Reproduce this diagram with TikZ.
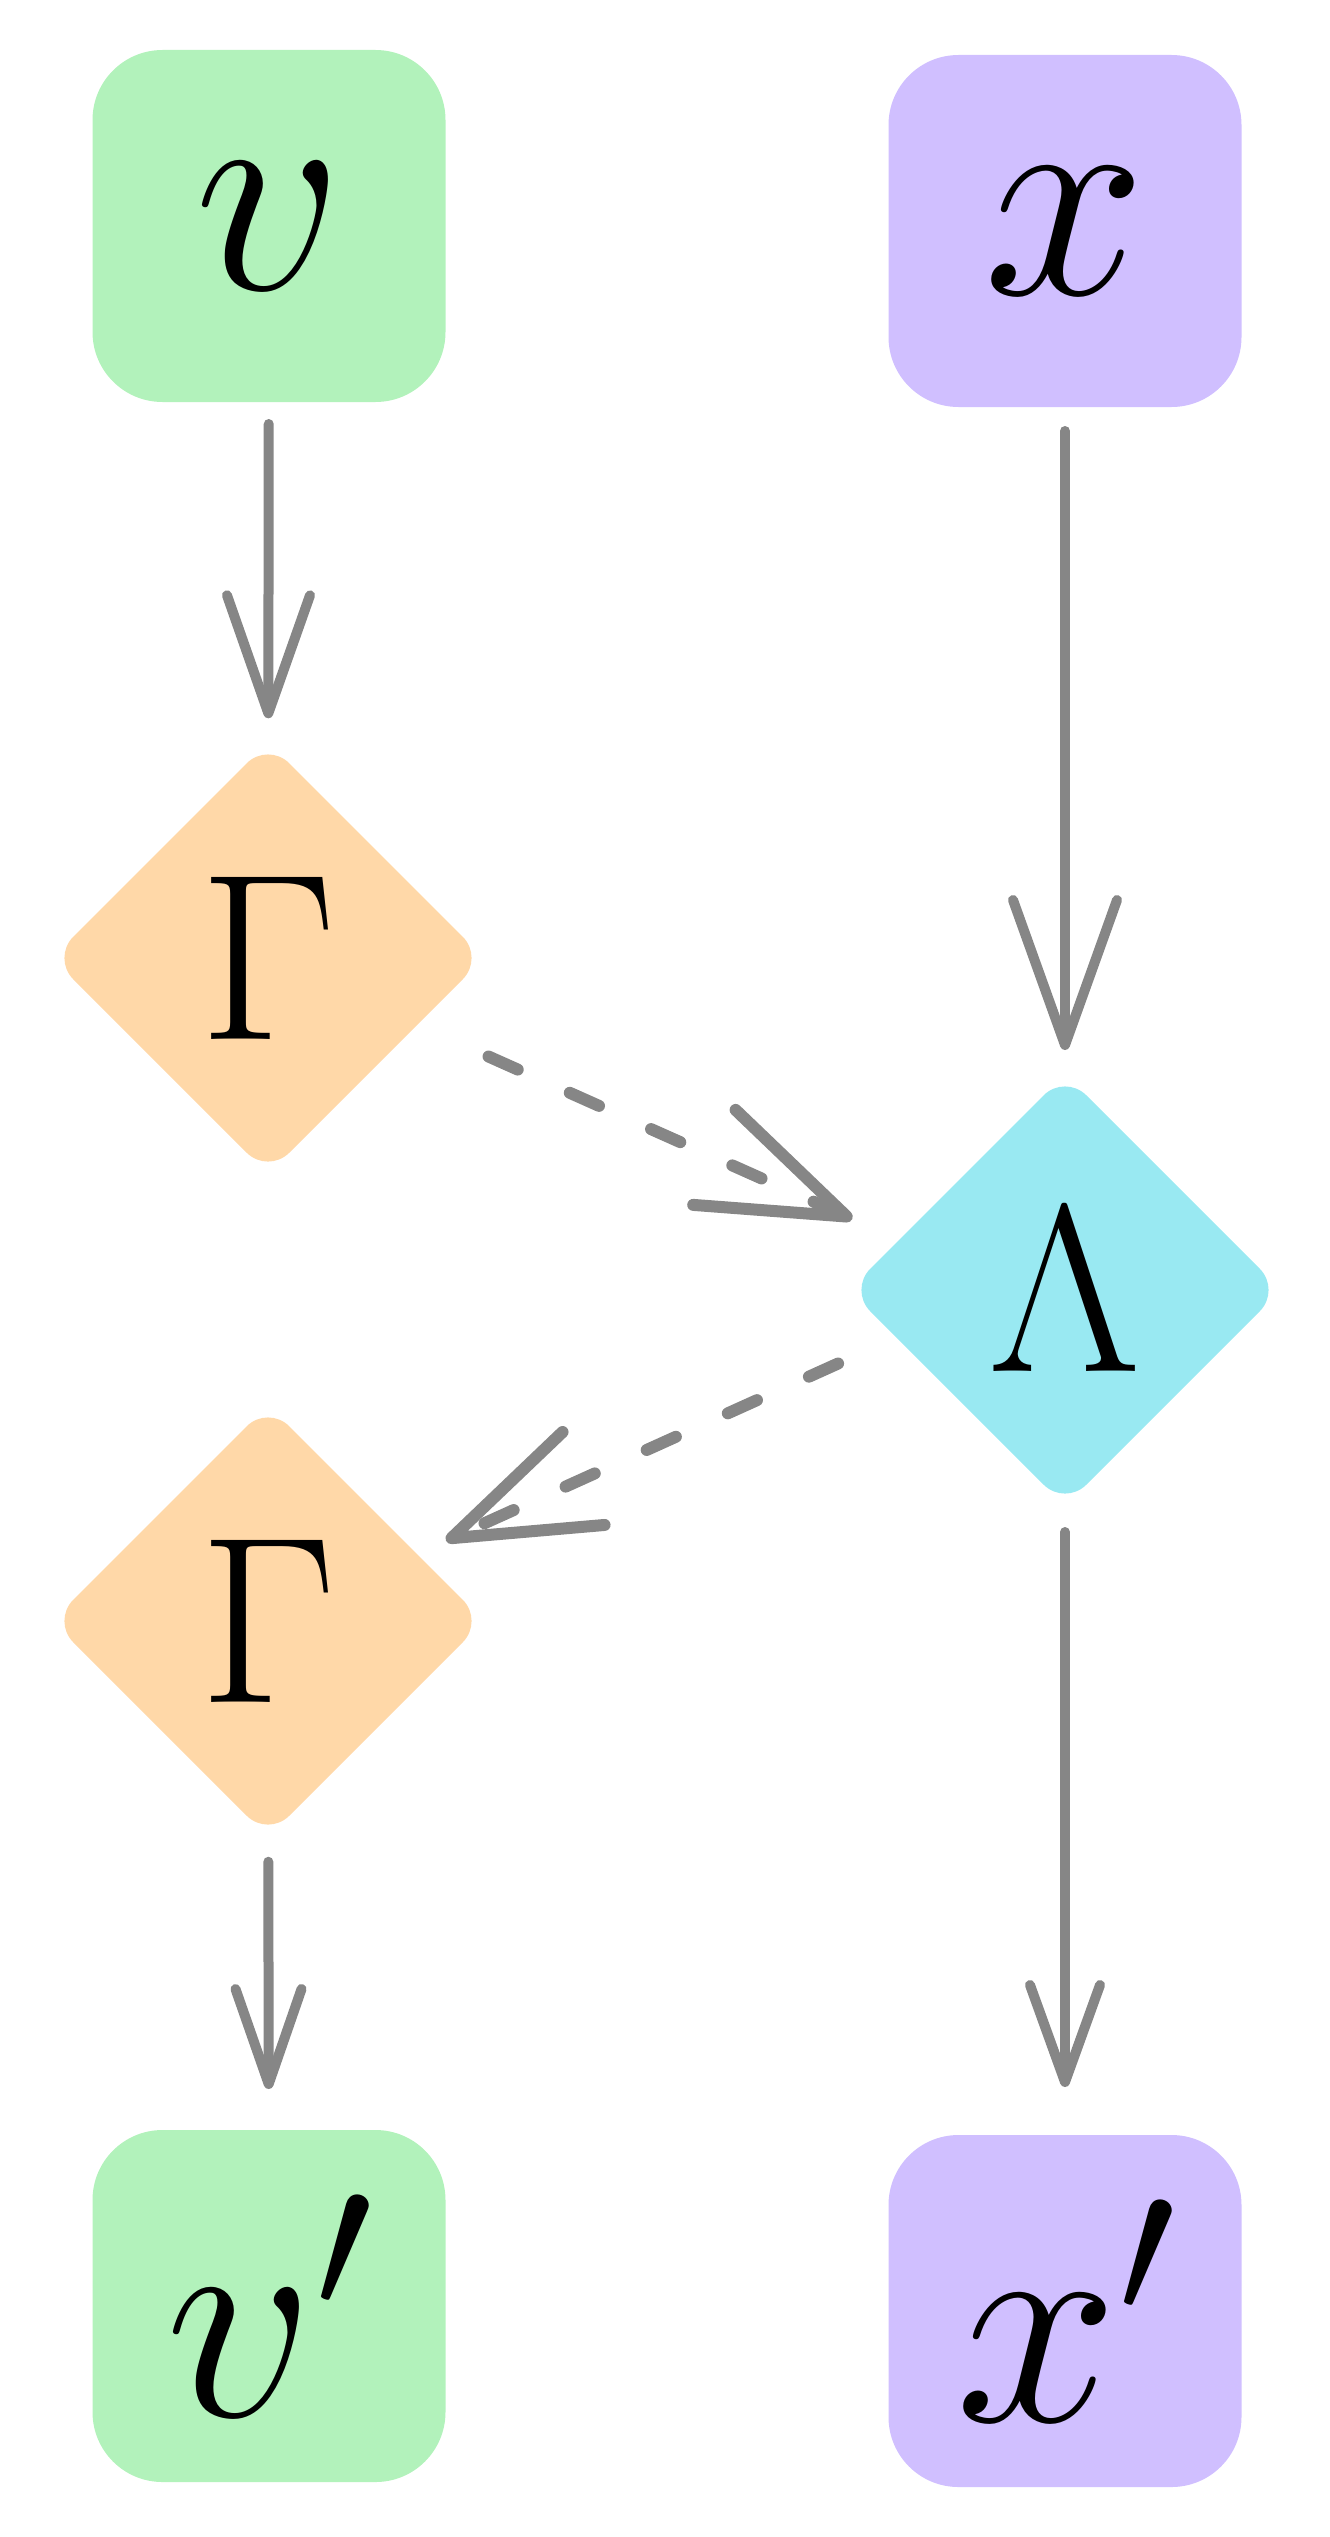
\documentclass[tikz,border=0pt]{standalone}
\usepackage{fix-cm}
\usepackage{amsmath,amssymb}
\usepackage{tikz}
\usetikzlibrary{shapes.geometric}
\usetikzlibrary{arrows.meta}

\definecolor{boxgreen}{HTML}{B2F2BB}
\definecolor{boxviolet}{HTML}{D0BFFF}
\definecolor{oporange}{HTML}{FFD8A8}
\definecolor{opcyan}{HTML}{99E9F2}
\definecolor{linkgray}{HTML}{868686}

\begin{document}
\begin{tikzpicture}[x=1pt, y=-1pt,
	varbox/.style={rectangle, rounded corners=70pt, minimum width=353pt, minimum height=352pt,
		inner sep=0pt, outer sep=0pt, font=\fontsize{293}{300}\selectfont},
	opbox/.style={diamond, aspect=1, rounded corners=30pt, minimum width=432pt, minimum height=432pt,
		inner sep=0pt, outer sep=0pt, font=\fontsize{238}{245}\selectfont},
	link/.style={draw=linkgray, line width=10pt, line cap=round},
	dashlink/.style={link, line width=12pt, dash pattern=on 32pt off 57pt},
	tiphead/.style 2 args={-{Straight Barb[length=#1, width=#2, round]}}]
	\useasboundingbox (0, 0) rectangle (1330, 2537);

	% inputs
	\node[varbox, fill=boxgreen] (v) at (269, 226) {$v$};
	\node[varbox, fill=boxviolet] (x) at (1065, 231) {$x$};

	% operators
	\node[opbox, fill=oporange] (G1) at (268, 958) {$\Gamma$};
	\node[opbox, fill=opcyan] (L) at (1065, 1290) {$\Lambda$};
	\node[opbox, fill=oporange] (G2) at (268, 1621) {$\Gamma$};

	% outputs
	\node[varbox, fill=boxgreen] (vp) at (269, 2306) {$v'$};
	\node[varbox, fill=boxviolet] (xp) at (1065, 2311) {$x'$};

	\draw[link, tiphead={118pt}{83pt}, shorten <=22pt, shorten >=24pt] (v) -- (G1);
	\draw[link, tiphead={145pt}{104pt}, shorten <=24pt, shorten >=24pt] (x) -- (L);
	\draw[link, tiphead={97pt}{70pt}, shorten <=26pt, shorten >=48pt] (L) -- (xp);
	\draw[link, tiphead={95pt}{66pt}, shorten <=25pt, shorten >=41pt] (G2) -- (vp);

	%\draw[dashlink] (G1) -- (L);
	\draw[dashlink, tiphead={145pt}{104pt}, shorten <=78pt, shorten >=233pt] (G1) -- ([yshift=-24pt]L.center);
	\draw[dashlink, tiphead={145pt}{102pt}, shorten <=249pt, shorten >=32pt] ([yshift=29pt]L.center) -- (G2);

\end{tikzpicture}
\end{document}
